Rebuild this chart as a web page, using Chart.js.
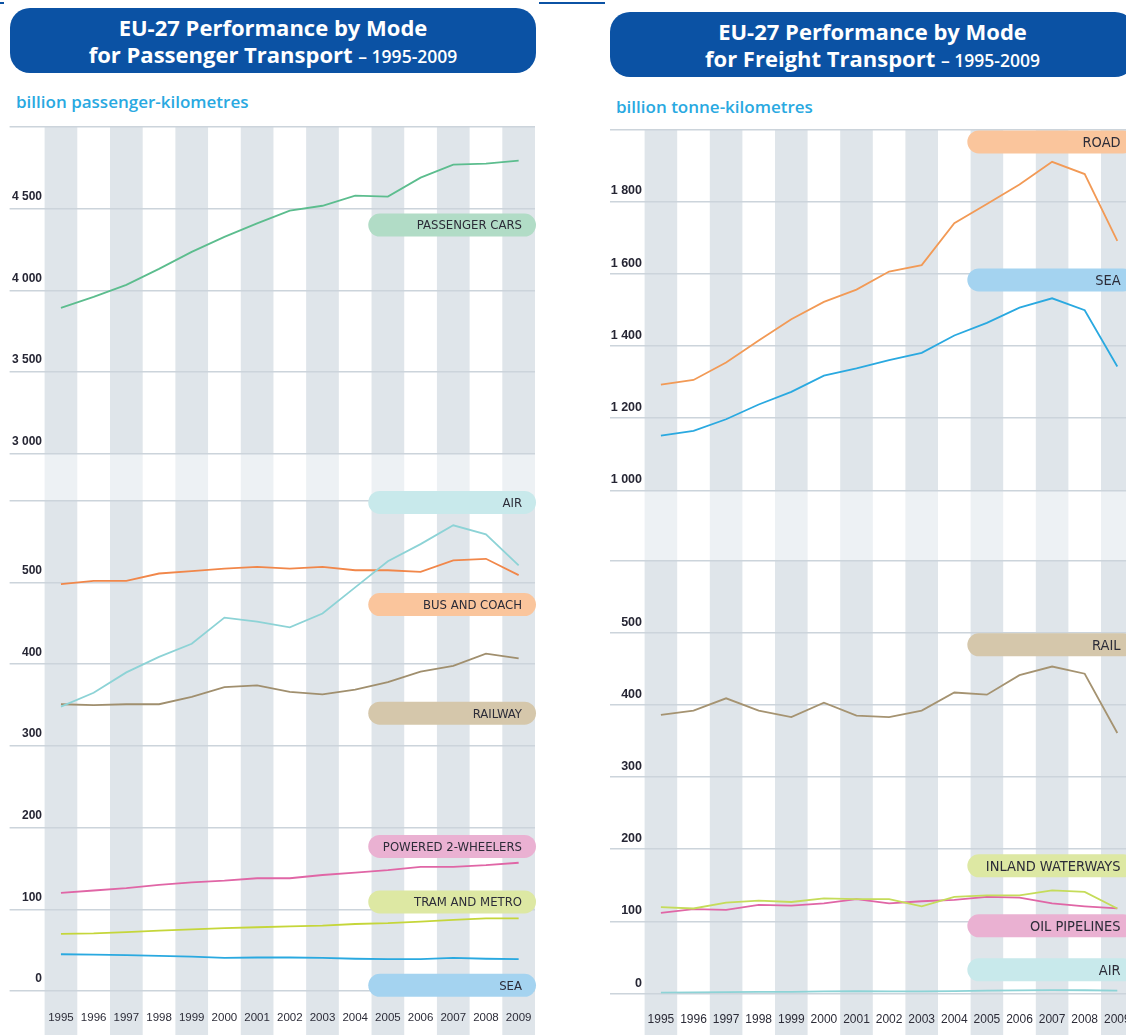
<!DOCTYPE html>
<html>
<head>
<meta charset="utf-8">
<script src="https://cdn.jsdelivr.net/npm/chart.js@4.4.1/dist/chart.umd.min.js"></script>
<style>
  html, body { margin: 0; padding: 0; width: 1126px; height: 1035px; overflow: hidden; background: #fff; }
  body { position: relative; }
  .ttl { position: absolute; background: #0b52a4; border-radius: 20px; color: #fff; text-align: center;
         font-family: 'Open Sans', sans-serif; font-weight: 700; font-size: 22px; line-height: 27px;
         padding-top: 6px; box-sizing: border-box; white-space: nowrap; }
  .ttl .yr { font-size: 17.5px; font-weight: 600; }
  .sub { position: absolute; color: #29a9e1; font-family: 'Open Sans', sans-serif; font-weight: 600;
         font-size: 17px; line-height: 20px; white-space: nowrap; }
  .box { position: absolute; top: 115px; width: 560px; height: 920px; }
  .rule { position: absolute; top: 2px; height: 1.5px; background: #0b52a4; }
</style>
</head>
<body>
<div class="rule" style="left:0;width:4px"></div>
<div class="rule" style="left:539px;width:66px"></div>

<div class="ttl" style="left:10px;top:8px;width:526px;height:65px;">
  <div>EU-27 Performance by Mode</div>
  <div>for Passenger Transport <span class="yr">– 1995-2009</span></div>
</div>
<div class="ttl" style="left:610px;top:12px;width:525px;height:65px;">
  <div>EU-27 Performance by Mode</div>
  <div>for Freight Transport <span class="yr">– 1995-2009</span></div>
</div>
<div class="sub" style="left:16px;top:92px;">billion passenger-kilometres</div>
<div class="sub" style="left:616px;top:97px;">billion tonne-kilometres</div>

<div class="box" style="left:0"><canvas id="passenger" width="560" height="920"></canvas></div>
<div class="box" style="left:600px"><canvas id="freight" width="560" height="920"></canvas></div>

<script>
const years = [1995, 1996, 1997, 1998, 1999, 2000, 2001, 2002, 2003, 2004, 2005, 2006, 2007, 2008, 2009];

// passenger transport, billion pkm
const passengerCars = [3893, 3960, 4034, 4132, 4236, 4328, 4410, 4488, 4518, 4580, 4574, 4690, 4770, 4776, 4794];
const airPassenger  = [348, 365, 390, 409, 425, 457, 452, 445, 462, 494, 526, 547, 570, 559, 521];
const busCoach      = [498, 502, 502, 511, 514, 517, 519, 517, 519, 515, 515, 513, 527, 529, 509];
const railway       = [351, 350, 351, 351, 360, 372, 374, 366, 363, 369, 378, 391, 398, 413, 407];
const twoWheelers   = [120, 123, 126, 130, 133, 135, 138, 138, 142, 145, 148, 152, 152, 154, 157];
const tramMetro     = [70, 70.5, 72, 74, 75.5, 77, 78, 79, 80, 82, 83, 85, 87, 89, 89];
const seaPassenger  = [45, 44.5, 44, 43, 42, 40.5, 41, 41, 40.5, 39.5, 39, 39, 40.5, 39.5, 39];

// freight transport, billion tkm
const road            = [1293, 1306, 1354, 1415, 1474, 1522, 1556, 1606, 1624, 1740, 1793, 1847, 1910, 1876, 1691];
const seaFreight      = [1152, 1165, 1197, 1238, 1273, 1318, 1338, 1361, 1381, 1429, 1464, 1506, 1532, 1499, 1343];
const rail            = [386, 392, 409, 392, 383, 403, 385, 383, 392, 417, 414, 441, 453, 443, 361];
const inlandWaterways = [120, 118, 126, 129, 127, 132, 131, 131, 121, 134, 136, 136, 143, 141, 118];
const oilPipelines    = [112, 117, 116, 123, 122, 125, 131, 125, 128, 130, 134, 133, 125, 121, 118];
const airFreight      = [1.5, 1.7, 2.1, 2.4, 2.6, 3.2, 3.4, 3.1, 3.3, 3.6, 4.2, 4.6, 5.0, 4.8, 4.2];

const passengerTicks = [0, 100, 200, 300, 400, 500, 600, 3000, 3500, 4000, 4500, 5000];
const passengerTickLabels = ['0', '100', '200', '300', '400', '500', '', '3 000', '3 500', '4 000', '4 500', ''];
const freightTicks = [0, 100, 200, 300, 400, 500, 600, 1000, 1200, 1400, 1600, 1800, 2000];
const freightTickLabels = ['0', '100', '200', '300', '400', '500', '', '1 000', '1 200', '1 400', '1 600', '1 800', ''];

// broken value axis: low part 1:1, then a gap, then the high part squeezed by factor
function breakAxis(lowMax, gap, highMin, factor) {
  return v => v <= lowMax ? v : lowMax + gap + (v - highMin) / factor;
}
const passengerY = breakAxis(600, 57.5, 3000, 5);
const freightY = breakAxis(600, 96.8, 1000, 2);

const NARROW = "'Liberation Sans Narrow', 'DejaVu Sans Condensed', sans-serif";
const SANS = "'Liberation Sans', Arial, sans-serif";

const stripes = {
  id: 'stripes',
  beforeDraw(chart, args, opts) {
    const { ctx, chartArea, scales: { x, y } } = chart;
    const bandTop = y.getPixelForValue(opts.map(opts.bandHigh));
    const bandBot = y.getPixelForValue(opts.map(opts.bandLow));
    ctx.save();
    years.forEach((yr, i) => {
      if (i % 2) return;
      const x0 = x.getPixelForValue(yr - 0.5), x1 = x.getPixelForValue(yr + 0.5);
      ctx.fillStyle = '#dfe5ea';
      ctx.fillRect(x0, chartArea.top, x1 - x0, bandTop - chartArea.top);
      ctx.fillRect(x0, bandBot, x1 - x0, chart.height - bandBot);
      ctx.fillStyle = '#edf1f4';
      ctx.fillRect(x0, bandTop, x1 - x0, bandBot - bandTop);
    });
    ctx.restore();
  }
};

const tags = {
  id: 'tags',
  afterDatasetsDraw(chart, args, opts) {
    const { ctx, chartArea, scales: { x, y } } = chart;
    ctx.save();
    opts.items.forEach(t => {
      const cy = y.getPixelForValue(opts.map(t.at));
      const x0 = x.getPixelForValue(2004.4), x1 = chartArea.right + 1;
      const h = 23, r = 11.5;
      ctx.beginPath();
      ctx.moveTo(x0 + r, cy - h / 2);
      ctx.lineTo(x1 - r, cy - h / 2);
      ctx.arc(x1 - r, cy, r, -Math.PI / 2, Math.PI / 2);
      ctx.lineTo(x0 + r, cy + h / 2);
      ctx.arc(x0 + r, cy, r, Math.PI / 2, Math.PI * 1.5);
      ctx.closePath();
      ctx.fillStyle = t.fill;
      ctx.fill();
      ctx.fillStyle = '#2c2c38';
      ctx.font = opts.font;
      ctx.textAlign = 'right';
      ctx.textBaseline = 'middle';
      ctx.fillText(t.text, x1 - 14, cy + 1);
    });
    ctx.restore();
  }
};

function makeChart(id, c) {
  return new Chart(document.getElementById(id), {
    type: 'line',
    data: {
      datasets: c.series.map(s => ({
        label: s.text,
        data: years.map((yr, i) => ({ x: yr, y: c.map(s.values[i]) })),
        borderColor: s.line,
        borderWidth: 1.8,
        pointRadius: 0,
        tension: 0,
        fill: false
      }))
    },
    options: {
      responsive: false,
      animation: false,
      devicePixelRatio: 1,
      layout: { padding: { left: 0, right: c.padRight, top: c.padTop, bottom: 0 } },
      plugins: {
        legend: { display: false },
        tooltip: { enabled: false },
        stripes: { map: c.map, bandLow: 600, bandHigh: c.highMin },
        tags: { map: c.map, font: c.tagFont, items: c.series.map(s => ({ text: s.text, at: s.at, fill: s.tag })) }
      },
      scales: {
        x: {
          type: 'linear', min: 1994.5, max: 2009.5,
          afterBuildTicks: s => { s.ticks = years.map(v => ({ value: v })); },
          afterFit: s => { s.height = c.xAxisH; },
          grid: { display: false, drawTicks: false },
          border: { display: false },
          ticks: { autoSkip: false, maxRotation: 0, padding: c.yearPad, color: '#2c2c38', font: c.yearFont, callback: v => String(v) }
        },
        y: {
          type: 'linear', min: 0, max: c.map(c.ticks[c.ticks.length - 1]),
          afterBuildTicks: s => { s.ticks = c.ticks.map(v => ({ value: c.map(v) })); },
          afterFit: s => { s.width = 44.6; },
          grid: { color: '#ccd4db', lineWidth: 1.5, drawTicks: true, tickLength: c.tickLen, tickColor: '#ccd4db' },
          border: { display: false },
          ticks: { autoSkip: false, padding: c.tickPad, labelOffset: c.labelOffset, color: '#262634', font: c.tickFont,
                   callback: (v, i) => c.tickLabels[i] }
        }
      }
    },
    plugins: [stripes, tags]
  });
}

makeChart('passenger', {
  map: passengerY, highMin: 3000,
  ticks: passengerTicks, tickLabels: passengerTickLabels,
  padTop: 12, padRight: 25, xAxisH: 44,
  tickLen: 35, tickPad: -32.4, labelOffset: -12, yearPad: 20,
  tickFont: { family: SANS, size: 12, weight: 'bold' },
  yearFont: { family: SANS, size: 11.5 },
  tagFont: '13px ' + NARROW,
  series: [
    { text: 'PASSENGER CARS', values: passengerCars, line: '#5cbd8e', tag: '#b1dcc6', at: 4400 },
    { text: 'AIR', values: airPassenger, line: '#8dd3d6', tag: '#c8e9eb', at: 598 },
    { text: 'BUS AND COACH', values: busCoach, line: '#f1874a', tag: '#fac59c', at: 473 },
    { text: 'RAILWAY', values: railway, line: '#a08f6e', tag: '#d5c7ab', at: 340 },
    { text: 'POWERED 2-WHEELERS', values: twoWheelers, line: '#e066a6', tag: '#eab1d2', at: 177 },
    { text: 'TRAM AND METRO', values: tramMetro, line: '#c5d63a', tag: '#dde8a3', at: 109 },
    { text: 'SEA', values: seaPassenger, line: '#2aa9e0', tag: '#a4d3f0', at: 7 }
  ]
});

makeChart('freight', {
  map: freightY, highMin: 1000,
  ticks: freightTicks, tickLabels: freightTickLabels,
  padTop: 14.3, padRight: 26.4, xAxisH: 41.3,
  tickLen: 34.6, tickPad: -32, labelOffset: -10.5, yearPad: 19,
  tickFont: { family: SANS, size: 12.5, weight: 'bold' },
  yearFont: { family: SANS, size: 12 },
  tagFont: '14.5px ' + NARROW,
  series: [
    { text: 'ROAD', values: road, line: '#f29a56', tag: '#fac59c', at: 1965 },
    { text: 'SEA', values: seaFreight, line: '#2aa9e0', tag: '#a4d3f0', at: 1583 },
    { text: 'RAIL', values: rail, line: '#a59371', tag: '#d5c7ab', at: 483 },
    { text: 'INLAND WATERWAYS', values: inlandWaterways, line: '#c5dc5a', tag: '#dde8a3', at: 177 },
    { text: 'OIL PIPELINES', values: oilPipelines, line: '#e066a6', tag: '#eab1d2', at: 94 },
    { text: 'AIR', values: airFreight, line: '#8dd3d6', tag: '#c8e9eb', at: 33 }
  ]
});
</script>
</body>
</html>
